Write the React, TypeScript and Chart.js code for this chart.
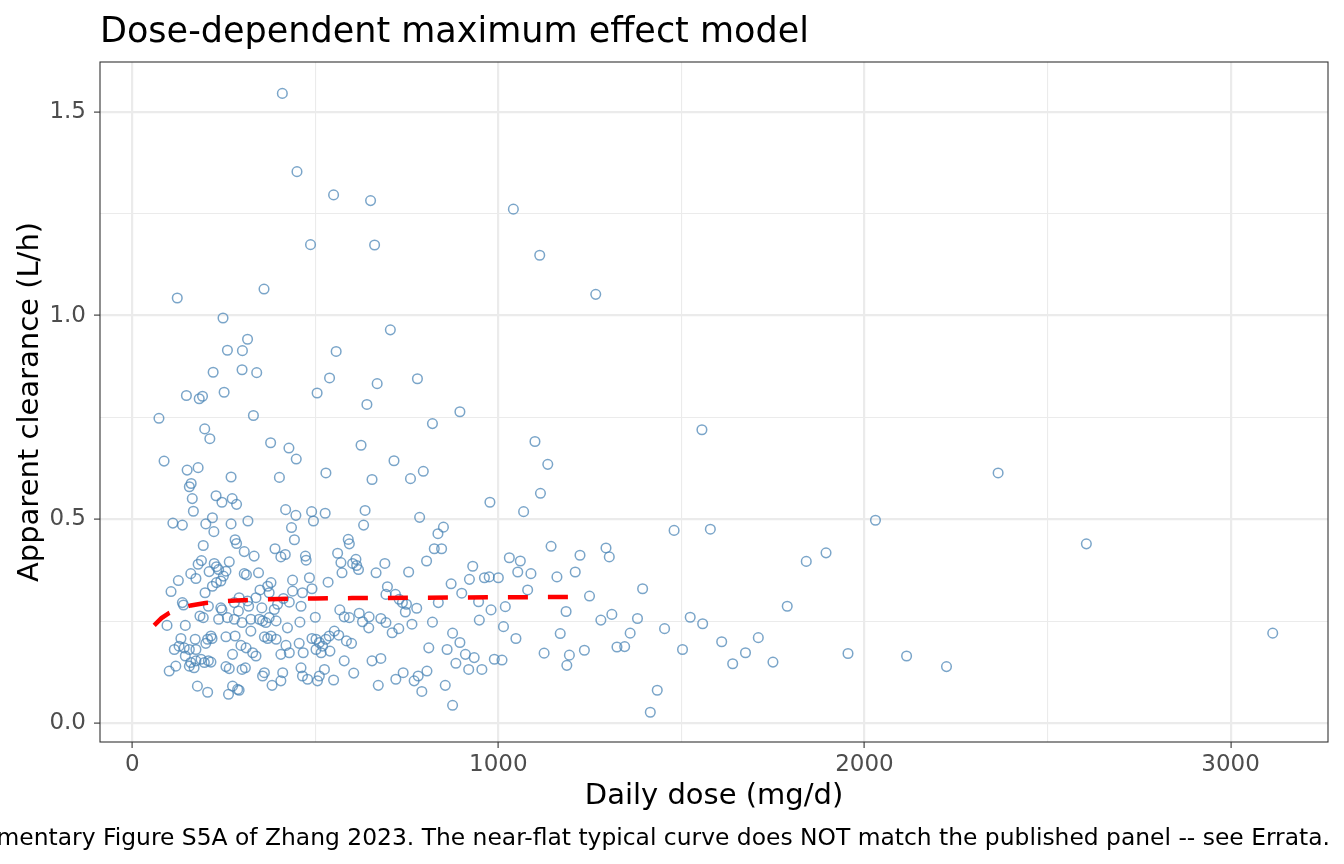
import { useEffect, useRef } from 'react';
import { Chart, registerables } from 'chart.js';

Chart.register(...registerables);

// Observed daily dose (mg/d)
const doses: number[] = [
  410, 450, 550, 651, 487, 662, 360, 123, 248, 315, 260, 301, 557, 705, 221, 300, 340, 539, 669, 779, 1041, 1113, 1266,
  148, 183, 192, 251, 505, 73, 331, 198, 212, 378, 428, 448, 87, 150, 180, 529, 270, 402, 161, 156, 164, 229, 245, 273, 285,
  167, 419, 447, 490, 527, 111, 137, 201, 219, 270, 316, 495, 435, 223,
  641, 895, 820, 625, 715, 655, 760, 795, 977, 636, 785, 632, 850, 835, 590, 593,
  1100, 1135, 1115, 1069, 1480, 1556, 1579,
  194, 281, 285, 306, 333, 390, 406, 418, 443, 473, 475, 180, 189, 224, 230, 265, 210, 236, 256, 160, 174, 126, 249, 242,
  230, 219, 306, 312, 345, 379, 370, 438, 484, 106, 199, 349, 374, 338, 315, 292, 413, 438, 465, 491, 137, 140, 208, 242,
  245, 279, 290, 318, 354, 388, 397, 429, 461, 185, 194, 236, 260, 279, 300, 324, 347, 356, 365, 374, 393, 424, 458, 500,
  95, 145, 215, 206, 256, 281, 324, 361, 370, 379, 393, 420, 456, 491, 502, 511, 520, 529, 133, 115, 128, 142, 156, 172,
  174, 201, 218, 297, 311, 329, 338, 274, 406, 429, 467, 502, 516, 145, 160, 174, 188, 197, 208, 215, 169, 156, 119, 101,
  256, 265, 300, 309, 361, 356, 411, 461, 465, 479, 506, 511, 525, 178, 206, 274, 288, 292, 263, 382, 406,
  561, 570, 573, 602, 611, 618, 613, 666, 690, 755, 804, 825, 845, 930, 871, 921, 962, 975, 1000, 1030, 1053, 535, 697,
  693, 719, 729, 738, 749, 746, 777, 836, 900, 946, 980, 1019, 567, 579, 593, 620, 629, 647, 646, 679, 693, 710, 728, 764,
  820, 948, 1014, 1048, 538, 552, 564, 540, 585, 599, 875, 895, 810, 860, 910, 934, 989, 1010, 579, 655, 679, 884, 605,
  919, 955, 740, 720, 805, 781, 770, 550, 672, 791, 855, 875,
  1060, 1089, 1144, 1223, 1294, 1303, 1160, 1210, 1080, 1185, 1249, 1394, 1310, 1280, 1380, 1524, 1454, 1360, 1169, 1324,
  1345, 1503, 1125, 1194, 1235, 1187, 1434, 1415,
  2365, 2030, 1895, 1841, 1789, 1558, 1610, 1710, 1675, 1640, 1750, 1955, 2115, 2224, 2606, 3115,
];

// Observed apparent clearance (L/h)
const clearances: number[] = [
  1.545, 1.353, 1.296, 1.282, 1.174, 1.173, 1.065, 1.043, 0.994, 0.942, 0.915, 0.914, 0.912, 0.965, 0.861, 0.867, 0.86, 0.847, 0.833, 0.845, 1.261, 1.148, 1.052,
  0.804, 0.796, 0.802, 0.812, 0.81, 0.748, 0.755, 0.722, 0.698, 0.688, 0.675, 0.648, 0.643, 0.621, 0.627, 0.614, 0.604, 0.603, 0.588, 0.58, 0.551, 0.558, 0.542, 0.551, 0.537,
  0.52, 0.524, 0.51, 0.519, 0.515, 0.491, 0.486, 0.489, 0.504, 0.489, 0.496, 0.496, 0.48, 0.47,
  0.782, 0.764, 0.735, 0.682, 0.644, 0.598, 0.6, 0.618, 0.542, 0.522, 0.505, 0.486, 0.481, 0.465, 0.451, 0.44,
  0.691, 0.635, 0.564, 0.519, 0.473, 0.72, 0.476,
  0.436, 0.45, 0.441, 0.421, 0.41, 0.428, 0.408, 0.414, 0.45, 0.41, 0.4, 0.39, 0.399, 0.392, 0.384, 0.396, 0.372, 0.377, 0.373, 0.367, 0.355, 0.35, 0.361, 0.349,
  0.345, 0.336, 0.367, 0.364, 0.369, 0.345, 0.336, 0.351, 0.357, 0.323, 0.32, 0.327, 0.32, 0.308, 0.3, 0.308, 0.306, 0.324, 0.32, 0.33, 0.296, 0.29, 0.287, 0.283,
  0.278, 0.296, 0.275, 0.287, 0.283, 0.279, 0.292, 0.297, 0.287, 0.263, 0.259, 0.255, 0.259, 0.255, 0.247, 0.255, 0.255, 0.251, 0.247, 0.259, 0.251, 0.234, 0.248, 0.26,
  0.24, 0.24, 0.214, 0.206, 0.212, 0.214, 0.226, 0.212, 0.208, 0.214, 0.206, 0.191, 0.196, 0.208, 0.206, 0.198, 0.189, 0.206, 0.208, 0.181, 0.189, 0.185, 0.181, 0.206,
  0.181, 0.196, 0.208, 0.191, 0.185, 0.173, 0.165, 0.169, 0.169, 0.173, 0.173, 0.181, 0.173, 0.165, 0.149, 0.153, 0.157, 0.149, 0.153, 0.15, 0.136, 0.14, 0.14, 0.128,
  0.139, 0.134, 0.132, 0.136, 0.124, 0.116, 0.124, 0.136, 0.116, 0.108, 0.104, 0.116, 0.132, 0.091, 0.076, 0.091, 0.083, 0.081, 0.071, 0.093, 0.104,
  0.417, 0.394, 0.369, 0.392, 0.402, 0.377, 0.387, 0.369, 0.392, 0.371, 0.398, 0.428, 0.428, 0.385, 0.342, 0.353, 0.357, 0.359, 0.357, 0.406, 0.371, 0.346, 0.335,
  0.316, 0.316, 0.304, 0.296, 0.292, 0.273, 0.282, 0.296, 0.319, 0.298, 0.278, 0.286, 0.278, 0.261, 0.259, 0.27, 0.249, 0.261, 0.234, 0.257, 0.247, 0.222, 0.232, 0.243,
  0.248, 0.253, 0.237, 0.208, 0.214, 0.226, 0.216, 0.177, 0.202, 0.196, 0.221, 0.198, 0.185, 0.181, 0.169, 0.161, 0.157, 0.155, 0.153, 0.153, 0.159, 0.147, 0.123,
  0.132, 0.132, 0.124, 0.108, 0.128, 0.116, 0.104, 0.106, 0.093, 0.078, 0.093, 0.044,
  0.398, 0.367, 0.434, 0.412, 0.43, 0.408, 0.359, 0.371, 0.327, 0.274, 0.312, 0.33, 0.267, 0.253, 0.257, 0.26, 0.232, 0.221, 0.22, 0.187,
  0.188, 0.181, 0.172, 0.167, 0.179, 0.142, 0.081, 0.027,
  0.614, 0.498, 0.418, 0.397, 0.287, 0.244, 0.2, 0.21, 0.173, 0.146, 0.15, 0.171, 0.165, 0.139, 0.44, 0.221,
];

// Typical (population) Emax curve
const curveDoses: number[] = [60, 80, 100, 130, 160, 200, 250, 300, 400, 500, 600, 800, 1000, 1220];
const curveClearances: number[] = [0.24, 0.258, 0.27, 0.282, 0.289, 0.295, 0.299, 0.302, 0.305, 0.306, 0.307, 0.308, 0.309, 0.31];

const xMajorTicks: number[] = [0, 1000, 2000, 3000];
const xMinorTicks: number[] = [500, 1500, 2500];
const xTickLabels: string[] = ['0', '1000', '2000', '3000'];
const yMajorTicks: number[] = [0, 0.5, 1.0, 1.5];
const yMinorTicks: number[] = [0.25, 0.75, 1.25];
const yTickLabels: string[] = ['0.0', '0.5', '1.0', '1.5'];

const titleText = 'Dose-dependent maximum effect model';
const captionText =
  'Supplementary Figure S5A of Zhang 2023. The near-flat typical curve does NOT match the published panel -- see Errata.';
const xTitle = 'Daily dose (mg/d)';
const yTitle = 'Apparent clearance (L/h)';

const FONT = '"DejaVu Sans", "Liberation Sans", Arial, sans-serif';
const GRID = '#EBEBEB';
const DARK = '#333333';

export default function App() {
  const ref = useRef<HTMLCanvasElement | null>(null);

  useEffect(() => {
    if (!ref.current) return;

    const textPlugin = {
      id: 'ggText',
      afterDraw(chart: any) {
        const { ctx, chartArea } = chart;
        ctx.save();
        ctx.strokeStyle = DARK;
        ctx.lineWidth = 1.1;
        ctx.strokeRect(
          chartArea.left,
          chartArea.top,
          chartArea.right - chartArea.left,
          chartArea.bottom - chartArea.top
        );
        ctx.fillStyle = '#000000';
        ctx.textBaseline = 'alphabetic';
        ctx.textAlign = 'left';
        ctx.font = `35px ${FONT}`;
        ctx.fillText(titleText, chartArea.left, 42);
        ctx.textAlign = 'right';
        ctx.font = `23.4px ${FONT}`;
        ctx.fillText(captionText, chartArea.right + 2, 845);
        ctx.restore();
      },
    };

    const isMajorX = (v: number) => xMajorTicks.indexOf(v) >= 0;
    const isMajorY = (v: number) => yMajorTicks.indexOf(v) >= 0;

    const chart = new Chart(ref.current, {
      type: 'scatter',
      data: {
        datasets: [
          {
            type: 'line',
            label: 'Typical curve',
            data: curveDoses.map((d, i) => ({ x: d, y: curveClearances[i] })),
            borderColor: '#FF0000',
            borderWidth: 4.5,
            borderDash: [20, 20],
            borderCapStyle: 'butt',
            pointRadius: 0,
            fill: false,
            tension: 0,
            order: 0,
          } as any,
          {
            type: 'scatter',
            label: 'Observed',
            data: doses.map((d, i) => ({ x: d, y: clearances[i] })),
            pointStyle: 'circle',
            pointRadius: 4.8,
            pointBorderWidth: 1.5,
            borderWidth: 1.5,
            borderColor: 'rgba(70,130,180,0.72)',
            pointBorderColor: 'rgba(70,130,180,0.72)',
            backgroundColor: 'rgba(0,0,0,0)',
            pointBackgroundColor: 'rgba(0,0,0,0)',
            order: 1,
          } as any,
        ],
      },
      plugins: [textPlugin],
      options: {
        animation: false,
        responsive: true,
        maintainAspectRatio: false,
        layout: { padding: { top: 62, right: 16, bottom: 50, left: 0 } },
        plugins: {
          legend: { display: false },
          title: { display: false },
          tooltip: { enabled: false },
        },
        scales: {
          x: {
            type: 'linear',
            min: -88,
            max: 3266,
            afterBuildTicks: (scale: any) => {
              scale.ticks = [...xMajorTicks, ...xMinorTicks].sort((a, b) => a - b).map((v) => ({ value: v }));
            },
            afterFit: (scale: any) => {
              scale.height = 72;
            },
            border: { display: false },
            grid: {
              color: GRID,
              lineWidth: (c: any) => (isMajorX(c.tick?.value) ? 2.2 : 1.1),
              tickColor: (c: any) => (isMajorX(c.tick?.value) ? DARK : 'rgba(0,0,0,0)'),
              tickWidth: 1.1,
              tickLength: 6,
              drawTicks: true,
            },
            ticks: {
              autoSkip: false,
              maxRotation: 0,
              padding: 3,
              color: '#4D4D4D',
              font: { family: FONT, size: 23 },
              callback: (v: any) => {
                const i = xMajorTicks.indexOf(Number(v));
                return i >= 0 ? xTickLabels[i] : '';
              },
            },
            title: {
              display: true,
              text: xTitle,
              color: '#000000',
              font: { family: FONT, size: 29 },
              padding: { top: 0, bottom: 0 },
            },
          },
          y: {
            type: 'linear',
            min: -0.046,
            max: 1.622,
            afterBuildTicks: (scale: any) => {
              scale.ticks = [...yMajorTicks, ...yMinorTicks].sort((a, b) => a - b).map((v) => ({ value: v }));
            },
            afterFit: (scale: any) => {
              scale.width = 100;
            },
            border: { display: false },
            grid: {
              color: GRID,
              lineWidth: (c: any) => (isMajorY(c.tick?.value) ? 2.2 : 1.1),
              tickColor: (c: any) => (isMajorY(c.tick?.value) ? DARK : 'rgba(0,0,0,0)'),
              tickWidth: 1.1,
              tickLength: 6,
              drawTicks: true,
            },
            ticks: {
              autoSkip: false,
              padding: 8,
              color: '#4D4D4D',
              font: { family: FONT, size: 23 },
              callback: (v: any) => {
                const i = yMajorTicks.indexOf(Number(v));
                return i >= 0 ? yTickLabels[i] : '';
              },
            },
            title: {
              display: true,
              text: yTitle,
              color: '#000000',
              font: { family: FONT, size: 29 },
              padding: { top: 13, bottom: 0 },
            },
          },
        },
      } as any,
    });

    return () => {
      chart.destroy();
    };
  }, []);

  return (
    <div
      style={{
        position: 'fixed',
        left: 0,
        top: 0,
        width: 1344,
        height: 864,
        background: '#ffffff',
        overflow: 'hidden',
      }}
    >
      <canvas ref={ref} />
    </div>
  );
}
